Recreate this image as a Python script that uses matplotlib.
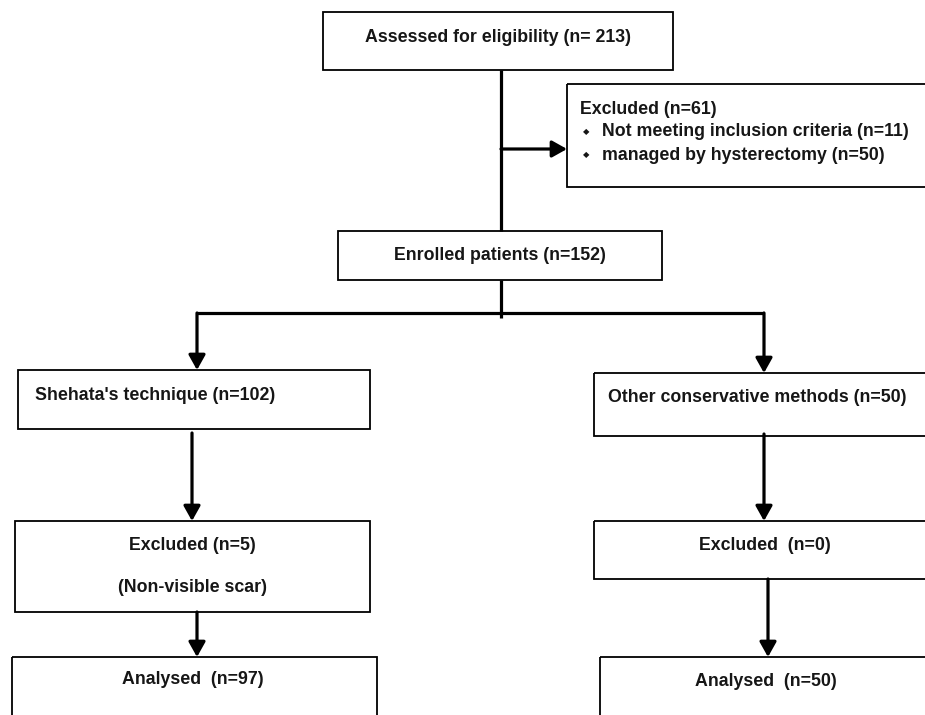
import matplotlib
matplotlib.use("Agg")
import matplotlib.pyplot as plt
from matplotlib.patches import Rectangle

# counts in the flow
n_assessed = 213
n_excluded = 61
n_not_meeting = 11
n_hysterectomy = 50
n_enrolled = 152
n_shehata = 102
n_other = 50
n_excl_shehata = 5
n_excl_other = 0
n_analysed_shehata = 97
n_analysed_other = 50

FONT = "Liberation Sans"
LW_BOX = 1.3
LW_ARROW = 2.3
FS = 12.8

fig = plt.figure(figsize=(9.25, 7.15), dpi=100)
ax = fig.add_axes([0, 0, 1, 1])
ax.set_xlim(0, 925)
ax.set_ylim(715, 0)
ax.axis("off")


def box(x0, y0, x1, y1):
    ax.add_patch(Rectangle((x0, y0), x1 - x0, y1 - y0, fill=False,
                           edgecolor="black", linewidth=LW_BOX))


def label(x, y, s, ha="center"):
    ax.text(x, y, s, ha=ha, va="center", fontsize=FS, family=FONT,
            fontweight="bold", color="#161616")


def bullet(x, y):
    ax.text(x, y, "\u25c6", ha="center", va="center", fontsize=6,
            family="DejaVu Sans", color="#161616")


def line(xs, ys):
    ax.plot(xs, ys, color="black", linewidth=LW_ARROW, solid_capstyle="butt")


def arrow(x0, y0, x1, y1):
    ax.annotate("", xy=(x1, y1), xytext=(x0, y0),
                arrowprops=dict(arrowstyle="-|>,head_length=0.5,head_width=0.28",
                                color="black", lw=LW_ARROW, mutation_scale=18,
                                shrinkA=0, shrinkB=0))


# top
box(323, 12, 673, 70)
label(498, 38, f"Assessed for eligibility (n= {n_assessed})")
line([501, 501], [70, 231])
arrow(501, 149, 567, 149)

box(567, 84, 940, 187)
label(580, 110, f"Excluded (n={n_excluded})", ha="left")
bullet(586, 132)
label(602, 132, f"Not meeting inclusion criteria (n={n_not_meeting})", ha="left")
bullet(586, 155)
label(602, 155, f"managed by hysterectomy (n={n_hysterectomy})", ha="left")

box(338, 231, 662, 280)
label(500, 256, f"Enrolled patients (n={n_enrolled})")

# split
line([501, 501], [280, 318])
line([197, 764], [313, 313])
arrow(197, 313, 197, 370)
arrow(764, 313, 764, 373)

# left arm
box(18, 370, 370, 429)
label(35, 395, f"Shehata's technique (n={n_shehata})", ha="left")
arrow(192, 433, 192, 521)
box(15, 521, 370, 612)
label(192, 546, f"Excluded (n={n_excl_shehata})")
label(192, 587, "(Non-visible scar)")
arrow(197, 612, 197, 657)
box(12, 657, 377, 730)
label(193, 680, f"Analysed  (n={n_analysed_shehata})")

# right arm
box(594, 373, 940, 436)
label(608, 397, f"Other conservative methods (n={n_other})", ha="left")
arrow(764, 434, 764, 521)
box(594, 521, 940, 579)
label(765, 546, f"Excluded  (n={n_excl_other})")
arrow(768, 579, 768, 657)
box(600, 657, 940, 730)
label(766, 682, f"Analysed  (n={n_analysed_other})")

fig.savefig("out.png", dpi=100, facecolor="white")
